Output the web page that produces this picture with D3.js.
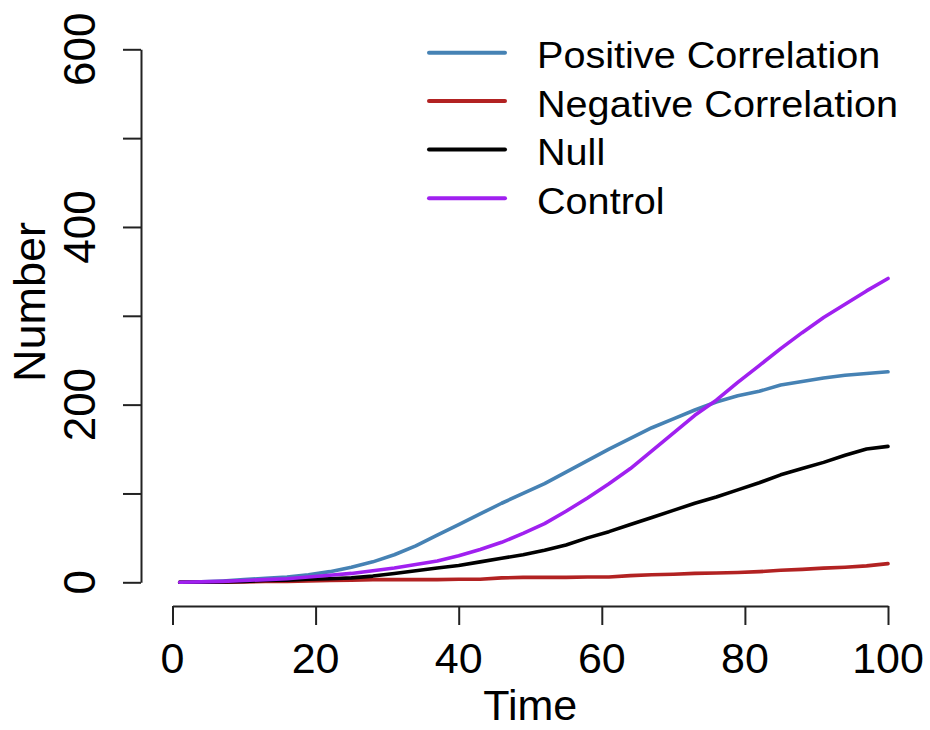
<!DOCTYPE html>
<html>
<head>
<meta charset="utf-8">
<script src="https://cdn.jsdelivr.net/npm/d3@7"></script>
<style>
  html, body { margin: 0; padding: 0; background: #ffffff; }
  svg { display: block; font-family: "Liberation Sans", Arial, sans-serif; }
</style>
</head>
<body>
<svg id="chart" width="930" height="730"></svg>
<script>
// Simulated population counts, sampled every 3 time steps
const time = [1, 4, 7, 10, 13, 16, 19, 22, 25, 28, 31, 34, 37, 40, 43, 46, 49, 52,
              55, 58, 61, 64, 67, 70, 73, 76, 79, 82, 85, 88, 91, 94, 97, 100];

const positive = [0, 0.5, 1.5, 3, 4.5, 6, 8.5, 12, 17, 23, 31, 41, 53, 65, 77, 89, 100, 111,
                  124, 137, 150, 162, 174, 184, 194, 203, 210, 215, 222, 226, 230, 233, 235, 237];
const negative = [0, 0, 0, 0.5, 1, 1, 1.5, 2, 2.5, 3, 3, 3, 3, 3.5, 3.5, 5, 5.5, 5.5,
                  5.5, 6, 6, 7.5, 8.5, 9, 10, 10.5, 11, 12, 13.5, 14.5, 16, 17, 18.5, 21];
const nullModel = [0, 0, 0.5, 1, 2, 2.5, 3.5, 4, 5, 7, 10, 13, 16, 19, 23, 27, 31, 36,
                   42, 50, 57, 65, 73, 81, 89, 96, 104, 112, 121, 128, 135, 143, 150, 153];
const control = [0, 0.5, 1, 2, 3, 4, 6, 8, 10, 13, 16, 20, 24, 30, 37, 45, 55, 66,
                 80, 95, 111, 128, 148, 168, 188, 205, 225, 244, 263, 281, 298, 313, 328, 342];

const seriesNames = ["Positive Correlation", "Negative Correlation", "Null", "Control"];
const seriesColors = ["#4682B4", "#B22222", "#000000", "#A020F0"];
const seriesValues = [positive, negative, nullModel, control];

const xTicks = [0, 20, 40, 60, 80, 100];
const yTicks = [0, 100, 200, 300, 400, 500, 600];
const yTickLabels = [0, 200, 400, 600];

const svg = d3.select("#chart");

const x = d3.scaleLinear().domain([0, 100]).range([172.5, 888]);
const y = d3.scaleLinear().domain([0, 600]).range([582.3, 49.3]);

const axisColor = "#222";
const axisY = 141;   // x position of the left axis line
const axisX = 606;   // y position of the bottom axis line

// Left axis
const gy = svg.append("g").attr("transform", `translate(${axisY},0)`);
gy.call(d3.axisLeft(y).tickValues(yTicks).tickSize(18).tickSizeOuter(0).tickFormat(""));
gy.select(".domain").attr("stroke", axisColor).attr("stroke-width", 2);
gy.selectAll(".tick line").attr("stroke", axisColor).attr("stroke-width", 2);

svg.append("g").selectAll("text")
  .data(yTickLabels)
  .join("text")
  .attr("transform", d => `translate(95,${y(d)}) rotate(-90)`)
  .attr("text-anchor", "middle")
  .attr("font-size", 44)
  .attr("fill", "#000")
  .text(d => d);

// Bottom axis
const gx = svg.append("g").attr("transform", `translate(0,${axisX})`);
gx.call(d3.axisBottom(x).tickValues(xTicks).tickSize(19).tickSizeOuter(0).tickFormat(""));
gx.select(".domain").attr("stroke", axisColor).attr("stroke-width", 2);
gx.selectAll(".tick line").attr("stroke", axisColor).attr("stroke-width", 2);

svg.append("g").selectAll("text")
  .data(xTicks)
  .join("text")
  .attr("x", d => x(d))
  .attr("y", 673)
  .attr("text-anchor", "middle")
  .attr("font-size", 43)
  .attr("fill", "#000")
  .text(d => d);

// Axis titles
svg.append("text")
  .attr("x", (x(0) + x(100)) / 2)
  .attr("y", 720)
  .attr("text-anchor", "middle")
  .attr("font-size", 43)
  .text("Time");

svg.append("text")
  .attr("transform", "translate(45,302) rotate(-90)")
  .attr("text-anchor", "middle")
  .attr("font-size", 45)
  .text("Number");

// Series lines
const line = d3.line()
  .x((d, i) => x(time[i]))
  .y(d => y(d));

svg.append("g").selectAll("path")
  .data(seriesValues)
  .join("path")
  .attr("d", d => line(d))
  .attr("fill", "none")
  .attr("stroke", (d, i) => seriesColors[i])
  .attr("stroke-width", 3.6)
  .attr("stroke-linejoin", "round")
  .attr("stroke-linecap", "round");

// Legend
const legendRowY = [52.7, 101, 149.5, 198.3];
const legend = svg.append("g");
seriesNames.forEach((name, i) => {
  const row = legend.append("g").attr("transform", `translate(0,${legendRowY[i]})`);
  row.append("line")
    .attr("x1", 429).attr("x2", 505)
    .attr("stroke", seriesColors[i])
    .attr("stroke-width", 4)
    .attr("stroke-linecap", "round");
  const t = row.append("text")
    .attr("x", 537)
    .attr("y", 15.5)
    .attr("font-size", 36)
    .attr("fill", "#000")
    .text(name);
  const w = t.node().getComputedTextLength();
  t.attr("textLength", w * 1.1).attr("lengthAdjust", "spacingAndGlyphs");
});
</script>
</body>
</html>
